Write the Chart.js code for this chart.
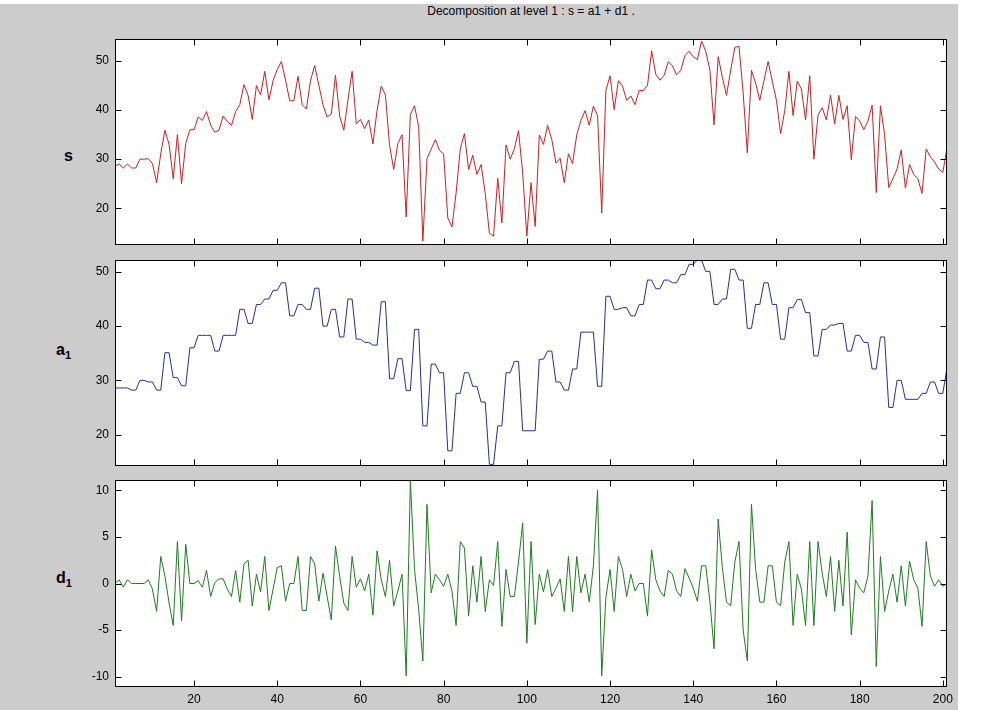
<!DOCTYPE html>
<html lang="en">
<head>
  <meta charset="UTF-8">
  <title>Decomposition at level 1</title>
  <script src="https://cdn.jsdelivr.net/npm/chart.js"></script>
  <style>
    body {
      margin: 0;
      width: 981px;
      height: 710px;
      overflow: hidden;
      background: #fff;
      font-family: "Liberation Sans", Arial, sans-serif;
    }
    .figure {
      position: absolute;
      left: 0;
      top: 4px;
      width: 958px;
      height: 706px;
      background: #cccccc;
    }
    .box {
      position: absolute;
      left: 0;
      width: 960px;
    }
    .title {
      position: absolute;
      left: 115px;
      width: 832px;
      top: 4px;
      text-align: center;
      font-size: 12px;
      color: #000;
    }
    .ylab {
      position: absolute;
      font-weight: bold;
      font-size: 16px;
      color: #000;
    }
    .ylab sub {
      font-size: 11px;
    }
  </style>
</head>
<body>
  <div class="figure"></div>
  <div class="title">Decomposition at level 1 : s = a1 + d1 .</div>
  <div class="ylab" style="left:64px; top:147px;">s</div>
  <div class="ylab" style="left:56px; top:341px;">a<sub>1</sub></div>
  <div class="ylab" style="left:56px; top:569px;">d<sub>1</sub></div>

  <div class="box" style="top:34px; height:216px;"><canvas id="sChart"></canvas></div>
  <div class="box" style="top:255px; height:216px;"><canvas id="aChart"></canvas></div>
  <div class="box" style="top:475px; height:235px;"><canvas id="dChart"></canvas></div>

  <script>
    // tick labels
    var xTicks = [20, 40, 60, 80, 100, 120, 140, 160, 180, 200];
    var sTicks = [20, 30, 40, 50];
    var aTicks = [20, 30, 40, 50];
    var dTicks = [-10, -5, 0, 5, 10];

    // signal s (samples 1..201)
    var sValues = [
      28.6, 29.0, 28.2, 29.0, 28.2, 28.2, 30.0, 30.0, 30.1, 29.1,
      25.2, 31.1, 35.9, 33.0, 26.0, 35.0, 25.0, 33.2, 36.0, 36.0,
      38.6, 37.9, 39.7, 36.9, 35.5, 35.9, 38.8, 37.7, 36.9, 39.7,
      41.1, 45.2, 43.0, 38.1, 45.0, 43.1, 47.9, 42.1, 46.0, 48.3,
      49.9, 46.1, 41.9, 41.9, 46.9, 41.1, 40.2, 46.0, 49.1, 45.1,
      41.1, 38.6, 39.2, 47.1, 38.8, 35.9, 42.1, 47.9, 37.2, 38.1,
      36.2, 38.0, 33.1, 40.0, 44.9, 43.1, 32.8, 27.9, 33.2, 35.0,
      18.2, 39.1, 40.9, 36.6, 13.3, 30.1, 32.0, 34.0, 31.8, 31.1,
      18.0, 16.2, 23.1, 32.1, 35.2, 27.9, 30.8, 26.9, 28.9, 23.0,
      14.9, 14.3, 26.1, 17.0, 32.9, 30.0, 32.1, 35.8, 27.2, 14.3,
      25.2, 16.3, 34.9, 33.0, 36.9, 34.0, 29.2, 30.2, 25.2, 31.1,
      29.1, 35.0, 37.9, 39.9, 36.9, 40.8, 38.9, 19.0, 44.0, 47.0,
      40.1, 46.0, 44.9, 42.0, 42.9, 41.1, 44.0, 44.0, 45.0, 52.1,
      47.3, 46.1, 47.1, 49.9, 49.0, 47.2, 48.1, 51.1, 52.0, 50.9,
      50.3, 54.1, 52.0, 48.2, 37.0, 50.9, 46.7, 43.0, 48.1, 52.8,
      53.0, 43.5, 31.3, 48.1, 45.5, 42.0, 46.0, 49.9, 45.9, 42.0,
      35.2, 39.9, 47.9, 38.9, 45.9, 44.3, 38.0, 47.0, 30.0, 39.0,
      40.5, 38.0, 43.1, 37.2, 43.0, 38.1, 40.9, 29.9, 38.7, 37.8,
      36.0, 37.8, 41.0, 23.2, 40.9, 35.0, 24.2, 26.0, 28.0, 31.9,
      24.1, 28.9, 26.9, 26.0, 23.0, 32.1, 30.5, 29.4, 28.0, 27.3,
      32.3
    ];

    // approximation a1
    var a1Values = [
      28.6, 28.6, 28.6, 28.6, 28.2, 28.2, 30.0, 30.0, 29.7, 29.7,
      28.2, 28.2, 35.1, 35.1, 30.5, 30.5, 29.0, 29.0, 36.0, 36.0,
      38.3, 38.3, 38.3, 38.3, 35.4, 35.4, 38.3, 38.3, 38.3, 38.3,
      43.1, 43.1, 40.5, 40.5, 44.0, 44.0, 45.0, 45.0, 46.6, 46.6,
      48.0, 48.0, 41.9, 41.9, 44.0, 44.0, 43.1, 43.1, 47.0, 47.0,
      40.0, 40.0, 43.1, 43.1, 38.0, 38.0, 45.0, 45.0, 37.6, 37.6,
      37.0, 37.0, 36.5, 36.5, 44.5, 44.5, 30.3, 30.3, 34.0, 34.0,
      28.1, 28.1, 39.4, 39.4, 21.6, 21.6, 33.0, 33.0, 31.4, 31.4,
      17.0, 17.0, 27.6, 27.6, 31.4, 31.4, 28.9, 28.9, 26.0, 26.0,
      14.5, 14.5, 21.6, 21.6, 31.4, 31.4, 33.5, 33.5, 20.7, 20.7,
      20.7, 20.7, 33.9, 33.9, 35.4, 35.4, 29.7, 29.7, 28.2, 28.2,
      32.1, 32.1, 38.9, 38.9, 38.9, 38.9, 28.9, 28.9, 45.5, 45.5,
      43.1, 43.1, 43.4, 43.4, 41.9, 41.9, 44.0, 44.0, 48.5, 48.5,
      46.9, 46.9, 48.5, 48.5, 48.0, 48.0, 49.5, 49.5, 51.4, 51.4,
      52.2, 52.2, 50.1, 50.1, 44.0, 44.0, 45.0, 45.0, 50.5, 50.5,
      48.5, 48.5, 39.6, 39.6, 44.0, 44.0, 48.0, 48.0, 44.0, 44.0,
      37.6, 37.6, 43.4, 43.4, 44.9, 44.9, 42.5, 42.5, 34.5, 34.5,
      39.4, 39.4, 40.2, 40.2, 40.5, 40.5, 35.4, 35.4, 38.3, 38.3,
      37.0, 37.0, 32.1, 32.1, 38.0, 38.0, 25.0, 25.0, 30.0, 30.0,
      26.5, 26.5, 26.5, 26.5, 27.6, 27.6, 29.7, 29.7, 27.6, 27.6,
      32.3
    ];

    // detail d1
    var d1Values = [
      0.0, 0.4, -0.4, 0.4, 0.0, 0.0, 0.0, 0.0, 0.4, -0.6,
      -3.0, 2.9, 0.8, -2.1, -4.5, 4.5, -4.0, 4.2, 0.0, 0.0,
      0.3, -0.4, 1.4, -1.4, 0.1, 0.5, 0.5, -0.6, -1.4, 1.4,
      -2.0, 2.1, 2.5, -2.4, 1.0, -0.9, 2.9, -2.9, -0.6, 1.7,
      1.9, -1.9, 0.0, 0.0, 2.9, -2.9, -2.9, 2.9, 2.1, -1.9,
      1.1, -1.4, -3.9, 4.0, 0.8, -2.1, -2.9, 2.9, -0.4, 0.5,
      -0.8, 1.0, -3.4, 3.5, 0.4, -1.4, 2.5, -2.4, -0.8, 1.0,
      -9.9, 11.0, 1.5, -2.8, -8.3, 8.5, -1.0, 1.0, 0.4, -0.3,
      1.0, -0.8, -4.5, 4.5, 3.8, -3.5, 1.9, -2.0, 2.9, -3.0,
      0.4, -0.2, 4.5, -4.6, 1.5, -1.4, -1.4, 2.3, 6.5, -6.4,
      4.5, -4.4, 1.0, -0.9, 1.5, -1.4, -0.5, 0.5, -3.0, 2.9,
      -3.0, 2.9, -1.0, 1.0, -2.0, 1.9, 10.0, -9.9, -1.5, 1.5,
      -3.0, 2.9, 1.5, -1.4, 1.0, -0.8, 0.0, 0.0, -3.5, 3.6,
      0.4, -0.8, -1.4, 1.4, 1.0, -0.8, -1.4, 1.6, 0.6, -0.5,
      -1.9, 1.9, 1.9, -1.9, -7.0, 6.9, 1.7, -2.0, -2.4, 2.3,
      4.5, -5.0, -8.3, 8.5, 1.5, -2.0, -2.0, 1.9, 1.9, -2.0,
      -2.4, 2.3, 4.5, -4.5, 1.0, -0.6, -4.5, 4.5, -4.5, 4.5,
      1.1, -1.4, 2.9, -3.0, 2.5, -2.4, 5.5, -5.5, 0.4, -0.5,
      -1.0, 0.8, 8.9, -8.9, 2.9, -3.0, -0.8, 1.0, -2.0, 1.9,
      -2.4, 2.4, 0.4, -0.5, -4.6, 4.5, 0.8, -0.3, 0.4, -0.3,
      0.0
    ];

    Chart.defaults.font.family = '"Liberation Sans", Arial, sans-serif';
    Chart.defaults.font.size = 12;
    Chart.defaults.color = '#000';

    // white axes area, black box and inward tick marks like matlab
    var matlabAxes = {
      id: 'matlabAxes',
      beforeDraw: function(chart) {
        var a = chart.chartArea, ctx = chart.ctx;
        ctx.save();
        ctx.fillStyle = '#fff';
        ctx.fillRect(a.left, a.top, a.right - a.left, a.bottom - a.top);
        ctx.restore();
      },
      afterDraw: function(chart) {
        var a = chart.chartArea, ctx = chart.ctx;
        var xs = chart.scales.x, ys = chart.scales.y;
        var L = Math.round(a.left) + 0.5, R = Math.round(a.right) - 0.5;
        var T = Math.round(a.top) + 0.5, B = Math.round(a.bottom) - 0.5;
        ctx.save();
        ctx.strokeStyle = '#000';
        ctx.lineWidth = 1;
        ctx.beginPath();
        xs.ticks.forEach(function(t) {
          var px = Math.round(xs.getPixelForValue(t.value)) + 0.5;
          ctx.moveTo(px, T); ctx.lineTo(px, T + 6);
          ctx.moveTo(px, B); ctx.lineTo(px, B - 6);
        });
        ys.ticks.forEach(function(t) {
          var py = Math.round(ys.getPixelForValue(t.value)) + 0.5;
          ctx.moveTo(L, py); ctx.lineTo(L + 6, py);
          ctx.moveTo(R, py); ctx.lineTo(R - 6, py);
        });
        ctx.stroke();
        ctx.strokeRect(L, T, R - L, B - T);
        ctx.restore();
      }
    };

    function noPad(scale) {
      scale.paddingTop = 0;
      scale.paddingBottom = 0;
      scale.paddingLeft = 0;
      scale.paddingRight = 0;
    }

    function makeChart(id, values, color, yMin, yMax, yTicks, showX) {
      var points = values.map(function(v, i) { return { x: i + 1, y: v }; });
      return new Chart(document.getElementById(id), {
        type: 'line',
        data: {
          datasets: [{
            data: points,
            borderColor: color,
            borderWidth: 1,
            pointRadius: 0,
            tension: 0,
            fill: false
          }]
        },
        options: {
          responsive: true,
          maintainAspectRatio: false,
          animation: false,
          events: [],
          layout: { padding: { left: 0, right: 13, top: 5, bottom: showX ? 0 : 5 } },
          plugins: { legend: { display: false }, tooltip: { enabled: false } },
          scales: {
            x: {
              type: 'linear',
              min: 1,
              max: 201,
              grid: { display: false, drawTicks: false },
              border: { display: false },
              ticks: { display: showX, padding: 5, maxRotation: 0 },
              afterBuildTicks: function(scale) {
                scale.ticks = xTicks.map(function(v) { return { value: v }; });
              },
              afterFit: function(scale) {
                scale.height = showX ? 23 : 0;
                noPad(scale);
              }
            },
            y: {
              min: yMin,
              max: yMax,
              grid: { display: false, drawTicks: false },
              border: { display: false },
              ticks: { padding: 6 },
              afterBuildTicks: function(scale) {
                scale.ticks = yTicks.map(function(v) { return { value: v }; });
              },
              afterFit: function(scale) {
                scale.width = 115;
                noPad(scale);
              }
            }
          }
        },
        plugins: [matlabAxes]
      });
    }

    makeChart('sChart', sValues, '#cc1f1f', 12.5, 54.5, sTicks, false);
    makeChart('aChart', a1Values, '#2b2b9c', 14.2, 52.2, aTicks, false);
    makeChart('dChart', d1Values, '#1e7d1e', -11.1, 11.1, dTicks, true);
  </script>
</body>
</html>
